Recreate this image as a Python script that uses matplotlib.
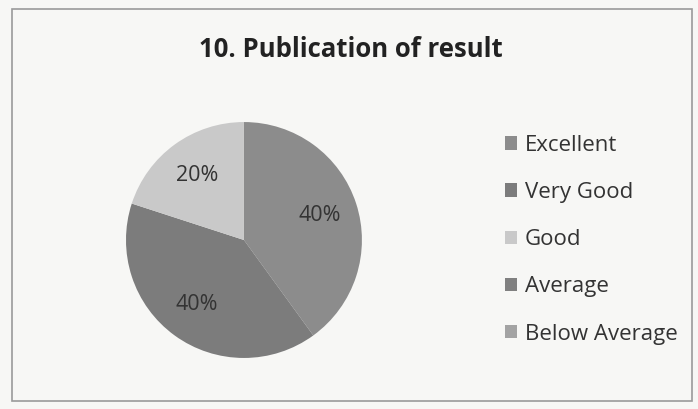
import matplotlib.pyplot as plt
from matplotlib.patches import Rectangle, Patch

plt.rcParams["font.family"] = ["Open Sans", "DejaVu Sans"]

categories = ["Excellent", "Very Good", "Good", "Average", "Below Average"]
shares = [40, 40, 20, 0, 0]
colors = ["#8c8c8c", "#7c7c7c", "#c9c9c9", "#808080", "#a3a3a3"]


def pct_label(p):
    return f"{p:.0f}%" if p > 0 else ""


fig = plt.figure(figsize=(6.98, 4.09), dpi=100)
fig.patch.set_facecolor("#f7f7f5")
fig.patches.append(Rectangle((12 / 698, 8 / 409), 680 / 698, 392 / 409,
                             transform=fig.transFigure, fill=False,
                             edgecolor="#9a9a9a", linewidth=1.2))

ax = fig.add_axes([0.1805, 0.1247, 0.338, 0.577])
ax.pie(shares, colors=colors, startangle=90, counterclock=False,
       autopct=pct_label, pctdistance=0.68,
       textprops={"fontsize": 15.5, "color": "#333333"})
ax.set_xlim(-1, 1)
ax.set_ylim(-1, 1)
ax.set_aspect("equal")

fig.text(0.503, 0.878, "10. Publication of result", ha="center", va="center",
         fontsize=18.5, fontweight="bold", color="#222222")

handles = [Patch(facecolor=c, edgecolor="none") for c in colors]
fig.legend(handles, categories, loc="center left",
           bbox_to_anchor=(0.695, 0.414), frameon=False, fontsize=16,
           labelspacing=1.18, handlelength=0.55, handleheight=0.55,
           handletextpad=0.35, labelcolor="#333333")

fig.savefig("out.png", dpi=100, facecolor=fig.get_facecolor())
